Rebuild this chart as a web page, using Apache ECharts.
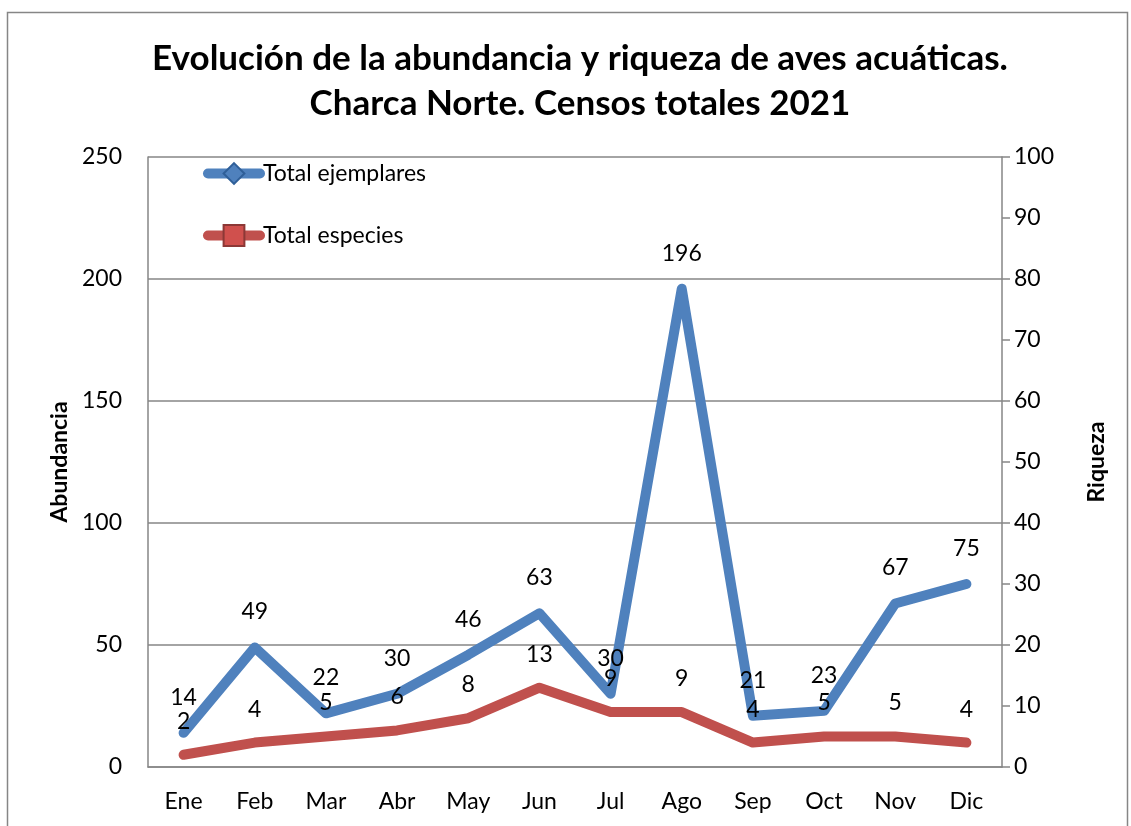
<!DOCTYPE html>
<html lang="es">
<head>
<meta charset="UTF-8">
<title>Charca Norte 2021</title>
<style>
  html, body { width: 100%; height: 100%; margin: 0; padding: 0; background: #fff; }
</style>
</head>
<body>
<div id="main" style="width:1131px;height:826px;"></div>
<script src="https://cdn.jsdelivr.net/npm/echarts@6/dist/echarts.min.js"></script>
<script>
  var meses = ['Ene', 'Feb', 'Mar', 'Abr', 'May', 'Jun', 'Jul', 'Ago', 'Sep', 'Oct', 'Nov', 'Dic'];
  var ejemplares = [14, 49, 22, 30, 46, 63, 30, 196, 21, 23, 67, 75];
  var especies = [2, 4, 5, 6, 8, 13, 9, 9, 4, 5, 5, 4];

  var fuente = 'Lato, "Noto Sans", sans-serif';
  var myChart = echarts.init(document.getElementById('main'));

  myChart.setOption({
    animation: false,
    textStyle: { fontFamily: fuente },
    title: {
      text: 'Evolución de la abundancia y riqueza de aves acuáticas.\nCharca Norte. Censos totales 2021',
      left: 575,
      textAlign: 'center',
      top: 31,
      textStyle: { fontSize: 35, fontWeight: 'bold', color: '#000', lineHeight: 45, fontFamily: fuente }
    },
    graphic: [{
      type: 'rect',
      shape: { x: 7.5, y: 12.5, width: 1120, height: 840 },
      style: { fill: 'none', stroke: '#868686', lineWidth: 1.5 },
      silent: true
    }],
    legend: {
      orient: 'vertical',
      left: 198,
      top: 157,
      itemGap: 39,
      itemWidth: 52,
      itemHeight: 26,
      lineStyle: { width: 10, cap: 'round' },
      textStyle: { fontSize: 23, color: '#000', padding: [0, 0, 0, -2] },
      data: ['Total ejemplares', 'Total especies']
    },
    grid: { left: 148, right: 129, top: 157, bottom: 59 },
    xAxis: {
      type: 'category',
      data: meses,
      axisLine: { lineStyle: { color: '#868686', width: 1.5 } },
      axisTick: { show: false },
      axisLabel: { fontSize: 23, color: '#000', margin: 23 }
    },
    yAxis: [{
      type: 'value',
      min: 0, max: 250, interval: 50,
      name: 'Abundancia',
      nameLocation: 'middle',
      nameRotate: 90,
      nameGap: 77,
      nameTextStyle: { fontSize: 23, fontWeight: 'bold', color: '#000' },
      axisLine: { show: true, lineStyle: { color: '#868686', width: 1.5 } },
      axisTick: { show: false },
      axisLabel: { fontSize: 23, color: '#000', margin: 26 },
      splitLine: { lineStyle: { color: '#868686', width: 1.5 } }
    }, {
      type: 'value',
      min: 0, max: 100, interval: 10,
      position: 'right',
      name: 'Riqueza',
      nameLocation: 'middle',
      nameRotate: 90,
      nameGap: 83,
      nameTextStyle: { fontSize: 23, fontWeight: 'bold', color: '#000' },
      axisLine: { show: true, lineStyle: { color: '#868686', width: 1.5 } },
      axisTick: { show: true, length: 8, lineStyle: { color: '#868686', width: 1.5 } },
      axisLabel: { fontSize: 23, color: '#000', margin: 12 },
      splitLine: { show: false }
    }],
    series: [{
      name: 'Total ejemplares',
      type: 'line',
      yAxisIndex: 0,
      data: ejemplares,
      symbol: 'diamond',
      symbolSize: 0,
      showSymbol: true,
      itemStyle: { color: '#4F81BD', borderColor: '#2F5F98', borderWidth: 1 },
      lineStyle: { width: 10, color: '#4F81BD', cap: 'round', join: 'round' },
      label: { show: true, position: 'top', distance: 24, fontSize: 23, color: '#000' },
      z: 3
    }, {
      name: 'Total especies',
      type: 'line',
      yAxisIndex: 1,
      data: especies,
      symbol: 'rect',
      symbolSize: 0,
      showSymbol: true,
      itemStyle: { color: '#D0504D', borderColor: '#8C3836', borderWidth: 1 },
      lineStyle: { width: 10, color: '#C0504D', cap: 'round', join: 'round' },
      label: { show: true, position: 'top', distance: 22, fontSize: 23, color: '#000' },
      z: 4
    }]
  });
</script>
</body>
</html>
